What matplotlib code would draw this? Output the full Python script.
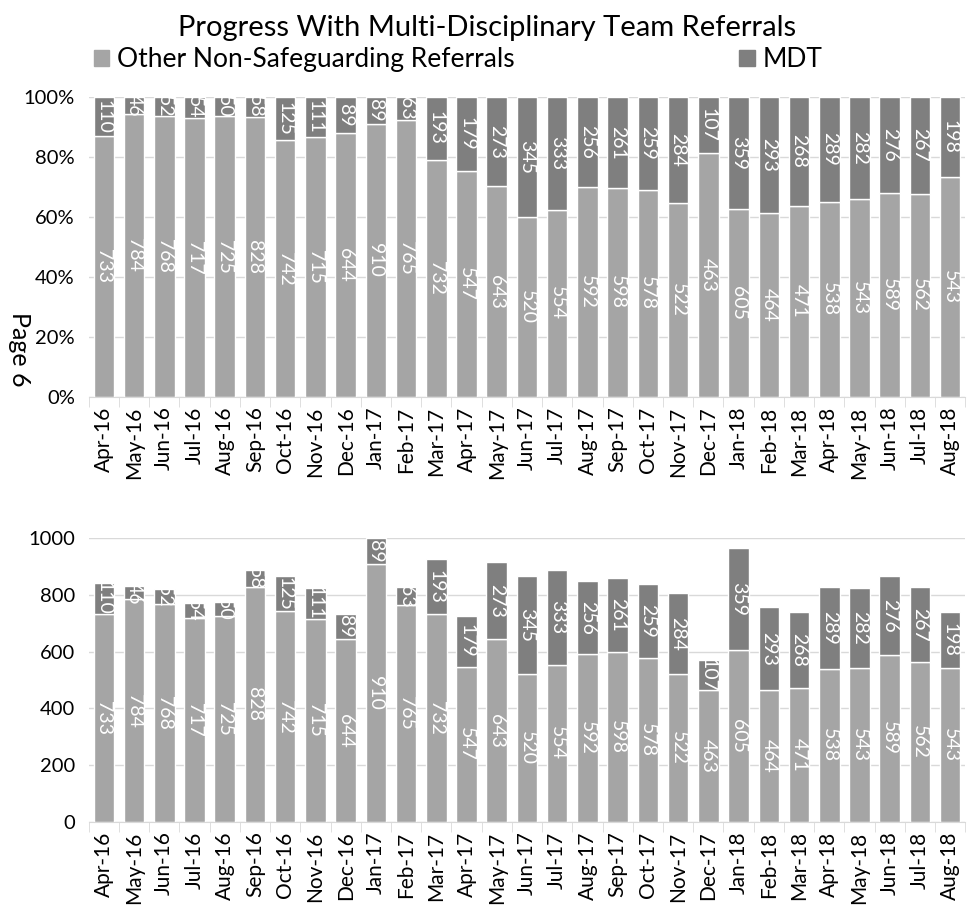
import numpy as np
import matplotlib.pyplot as plt
from matplotlib.patches import Patch

months = ['Apr-16', 'May-16', 'Jun-16', 'Jul-16', 'Aug-16', 'Sep-16', 'Oct-16', 'Nov-16',
          'Dec-16', 'Jan-17', 'Feb-17', 'Mar-17', 'Apr-17', 'May-17', 'Jun-17', 'Jul-17',
          'Aug-17', 'Sep-17', 'Oct-17', 'Nov-17', 'Dec-17', 'Jan-18', 'Feb-18', 'Mar-18',
          'Apr-18', 'May-18', 'Jun-18', 'Jul-18', 'Aug-18']
other = [733, 784, 768, 717, 725, 828, 742, 715, 644, 910, 765, 732, 547, 643, 520, 554,
         592, 598, 578, 522, 463, 605, 464, 471, 538, 543, 589, 562, 543]
mdt = [110, 46, 52, 54, 50, 58, 125, 111, 89, 89, 63, 193, 179, 273, 345, 333,
       256, 261, 259, 284, 107, 359, 293, 268, 289, 282, 276, 267, 198]

c_other = '#a5a5a5'
c_mdt = '#7f7f7f'
plt.rcParams['font.family'] = ['Lato', 'DejaVu Sans']

other = np.array(other, dtype=float)
mdt = np.array(mdt, dtype=float)
total = other + mdt
x = np.arange(len(months))
w = 0.68

fig = plt.figure(figsize=(9.75, 9.06), dpi=100)
ax1 = fig.add_axes([0.091, 0.562, 0.899, 0.331])
ax2 = fig.add_axes([0.091, 0.093, 0.899, 0.313])


def style(ax, ymax, yticks, ylabels):
    ax.set_xlim(-0.5, len(months) - 0.5)
    ax.set_ylim(0, ymax)
    ax.set_yticks(yticks)
    ax.set_yticklabels(ylabels, fontsize=14.5)
    ax.yaxis.grid(True, color='#d9d9d9', linewidth=1)
    ax.set_axisbelow(True)
    for s in ['top', 'right', 'left']:
        ax.spines[s].set_visible(False)
    ax.spines['bottom'].set_color('#d9d9d9')
    ax.tick_params(axis='y', length=0, pad=10)
    ax.set_xticks(x)
    ax.set_xticklabels(months, rotation=90, fontsize=15)
    ax.tick_params(axis='x', length=0, pad=7)
    ax.set_xticks(np.arange(-0.5, len(months), 1), minor=True)
    ax.tick_params(axis='x', which='minor', length=7, color='#d9d9d9', direction='out')


def labels(ax, bottoms, heights, values):
    for i in range(len(months)):
        ax.text(x[i], bottoms[i] + heights[i] / 2, str(int(values[i])), rotation=-90,
                ha='center', va='center', color='white', fontsize=14)


# top panel: percentages
p_other = other / total
p_mdt = mdt / total
ax1.bar(x, p_other, w, color=c_other, edgecolor='white', linewidth=1)
ax1.bar(x, p_mdt, w, bottom=p_other, color=c_mdt, edgecolor='white', linewidth=1)
labels(ax1, np.zeros(len(months)), p_other, other)
labels(ax1, p_other, p_mdt, mdt)
style(ax1, 1.0, np.arange(0, 1.01, 0.2), ['0%', '20%', '40%', '60%', '80%', '100%'])

# bottom panel: counts
ax2.bar(x, other, w, color=c_other, edgecolor='white', linewidth=1)
ax2.bar(x, mdt, w, bottom=other, color=c_mdt, edgecolor='white', linewidth=1)
labels(ax2, np.zeros(len(months)), other, other)
labels(ax2, other, mdt, mdt)
style(ax2, 1000, np.arange(0, 1001, 200), [str(v) for v in range(0, 1001, 200)])

fig.text(0.5, 0.969, 'Progress With Multi-Disciplinary Team Referrals', ha='center',
         va='center', fontsize=21)
handles = [Patch(color=c_other, label='Other Non-Safeguarding Referrals'),
           Patch(color=c_mdt, label='MDT')]
fig.legend(handles=handles, loc='center', bbox_to_anchor=(0.47, 0.934), ncol=2,
           frameon=False, fontsize=19, handlelength=0.6, handleheight=0.6,
           handletextpad=0.3, columnspacing=8.5)
fig.text(0.02, 0.614, 'Page 6', rotation=-90, ha='center', va='center', fontsize=18)

plt.savefig('out.png', dpi=100)
